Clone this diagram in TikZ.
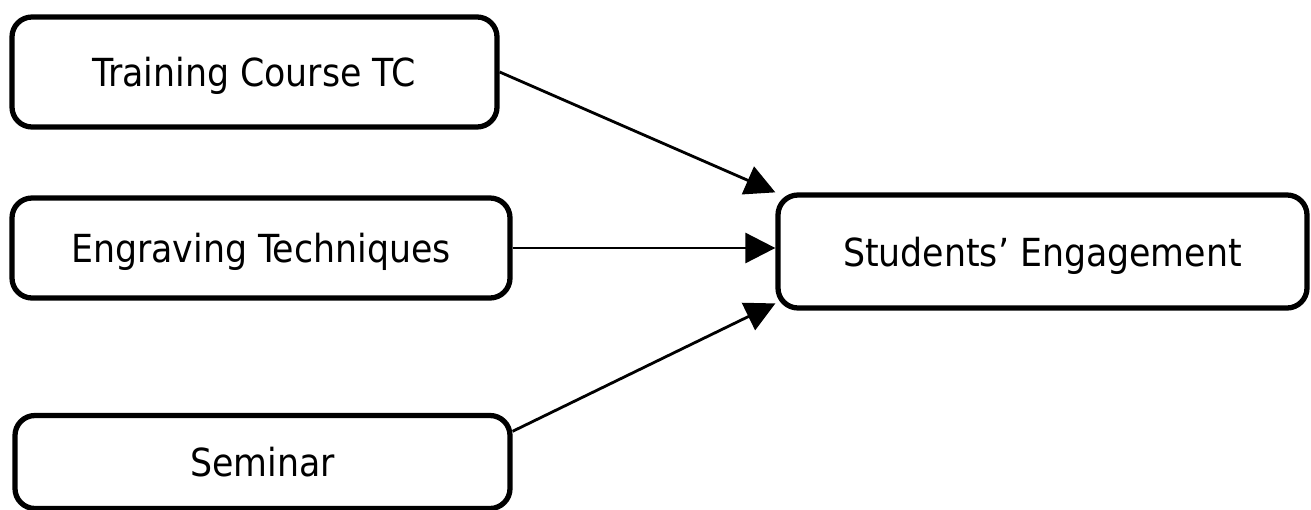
\documentclass[tikz,border=0pt]{standalone}
\usepackage{fontspec}
\setmainfont{DejaVu Sans Condensed}
\usetikzlibrary{arrows.meta}

\begin{document}
\begin{tikzpicture}[x=0.02cm, y=-0.02cm,
    box/.style={draw, line width=3pt, rounded corners=0.4cm, font=\fontsize{22}{26}\selectfont, inner sep=0pt, text depth=0pt},
    link/.style={line width=1.6pt, -{Triangle[length=0.6cm, width=0.6cm]}}]
    \useasboundingbox (0,0) rectangle (1311,510);
    \node [box, minimum width=485*0.02cm, minimum height=110*0.02cm] (tc) at (254.5,72) {Training Course TC};
    \node [box, minimum width=498*0.02cm, minimum height=100*0.02cm] (et) at (261,248) {Engraving Techniques};
    \node [box, minimum width=495*0.02cm, minimum height=93*0.02cm] (sem) at (262.5,462) {Seminar};
    \node [box, minimum width=529*0.02cm, minimum height=113*0.02cm] (se) at (1042.5,251.5) {Students’ Engagement};
    \draw [link] (tc.east) -- (se.north west);
    \draw [link] (et.east) -- (et.east -| se.west);
    \draw [link] (sem.7) -- (se.191);
\end{tikzpicture}
\end{document}
